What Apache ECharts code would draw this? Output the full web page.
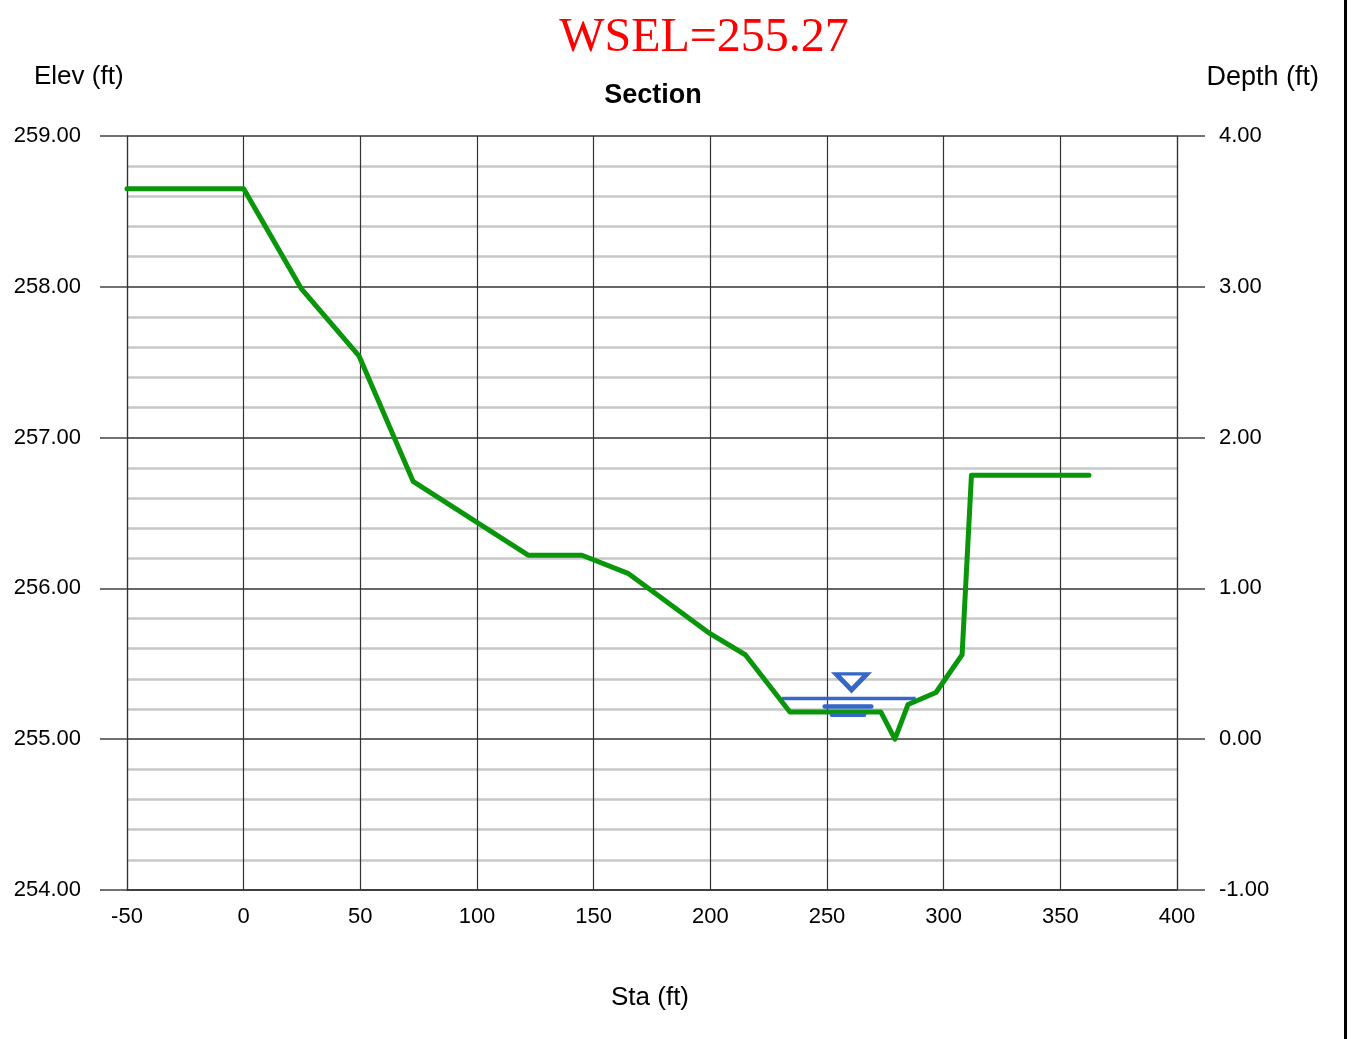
<!DOCTYPE html>
<html>
<head>
<meta charset="utf-8">
<script src="https://cdn.jsdelivr.net/npm/echarts@6/dist/echarts.min.js"></script>
<style>
html,body{margin:0;padding:0;background:#fff;}
#chart{width:1351px;height:1039px;}
</style>
</head>
<body>
<div id="chart"></div>
<script>
// ---- data ----
const station = [-50, 0, 24.6, 49.5, 72.6, 121.9, 145, 164.7, 199.9, 215, 234.1, 273.1, 279.1, 284.7, 296.7, 307.9, 311.9, 362.3];
const elev = [258.65, 258.65, 257.99, 257.54, 256.71, 256.22, 256.22, 256.10, 255.70, 255.56, 255.18, 255.18, 255.00, 255.23, 255.31, 255.56, 256.75, 256.75];
const wsel = 255.27;
const waterStations = [230.7, 288.0];
const symbolStation = 260.5;
const xTicks = [-50, 0, 50, 100, 150, 200, 250, 300, 350, 400];
const elevTicks = [254, 255, 256, 257, 258, 259];
const depthTicks = [-1, 0, 1, 2, 3, 4];

const ground = station.map((s, i) => [s, elev[i]]);
const water = waterStations.map(s => [s, wsel]);
// water surface symbol bars below WSEL
const bar1 = [[symbolStation - 11.5, wsel - 0.053], [symbolStation + 8.5, wsel - 0.053]];
const bar2 = [[symbolStation - 8.5, wsel - 0.11], [symbolStation + 5.5, wsel - 0.11]];

const font = '"Liberation Sans", Arial, sans-serif';
const blue = '#3566c8';

const chart = echarts.init(document.getElementById('chart'), null, {renderer: 'canvas'});
chart.setOption({
  animation: false,
  backgroundColor: '#fff',
  title: [
    {text: 'WSEL=' + wsel.toFixed(2), left: 699, top: 9, textAlign: 'center',
     textStyle: {fontFamily: '"Liberation Serif", "Times New Roman", serif', fontSize: 48, fontWeight: 'normal', color: '#ff0000'}},
    {text: 'Section', left: 648, top: 77, textAlign: 'center',
     textStyle: {fontFamily: font, fontSize: 27, fontWeight: 'bold', color: '#000'}}
  ],
  graphic: [
    {type: 'text', left: 34, top: 64, style: {text: 'Elev (ft)', font: '26px ' + font, fill: '#000'}},
    {type: 'text', right: 32, top: 64, style: {text: 'Depth (ft)', font: '27px ' + font, fill: '#000'}},
    {type: 'text', left: 611, top: 985, style: {text: 'Sta (ft)', font: '26px ' + font, fill: '#000'}},
    {type: 'rect', left: 1344, top: 0, shape: {width: 3, height: 1039}, style: {fill: '#000'}}
  ],
  grid: {left: 127, right: 174, top: 136, bottom: 149, containLabel: false},
  xAxis: {
    type: 'value', min: -50, max: 400, interval: 50,
    axisLine: {show: true, onZero: false, lineStyle: {color: '#333', width: 1.5}},
    axisTick: {show: false},
    axisLabel: {fontFamily: font, fontSize: 22, color: '#000', margin: 16},
    splitLine: {show: true, lineStyle: {color: '#333', width: 1.2}}
  },
  yAxis: [
    {
      type: 'value', min: 254, max: 259, interval: 1, position: 'left',
      axisLine: {show: true, onZero: false, lineStyle: {color: '#333', width: 1.2}},
      axisTick: {show: true, length: 27, lineStyle: {color: '#444', width: 1.5}},
      axisLabel: {fontFamily: font, fontSize: 22, color: '#000', margin: 46, padding: [5, 0, 0, 0], formatter: v => v.toFixed(2)},
      splitLine: {show: true, lineStyle: {color: '#333', width: 1.5}},
      minorTick: {show: false, splitNumber: 5},
      minorSplitLine: {show: true, lineStyle: {color: '#c8c8c8', width: 2.5}}
    },
    {
      type: 'value', min: -1, max: 4, interval: 1, position: 'right',
      axisLine: {show: true, onZero: false, lineStyle: {color: '#333', width: 1.2}},
      axisTick: {show: true, length: 28, lineStyle: {color: '#444', width: 1.5}},
      axisLabel: {fontFamily: font, fontSize: 22, color: '#000', margin: 42, padding: [5, 0, 0, 0], formatter: v => v.toFixed(2)},
      splitLine: {show: false}
    }
  ],
  series: [
    {type: 'line', data: ground, showSymbol: false, symbol: 'none', z: 5,
     lineStyle: {color: '#0a960a', width: 5, cap: 'round', join: 'round'}},
    {type: 'line', data: water, showSymbol: false, symbol: 'none', z: 4,
     lineStyle: {color: blue, width: 3.5}},
    {type: 'line', data: bar1, showSymbol: false, symbol: 'none', z: 6,
     lineStyle: {color: blue, width: 4.5, cap: 'round'}},
    {type: 'line', data: bar2, showSymbol: false, symbol: 'none', z: 6,
     lineStyle: {color: blue, width: 4, cap: 'round'}},
    {type: 'scatter', data: [[symbolStation, wsel + 0.11]], symbol: 'triangle', symbolRotate: 180,
     symbolSize: [31, 16], z: 7,
     itemStyle: {color: '#fff', borderColor: blue, borderWidth: 4.5, opacity: 1}}
  ]
});
</script>
</body>
</html>
